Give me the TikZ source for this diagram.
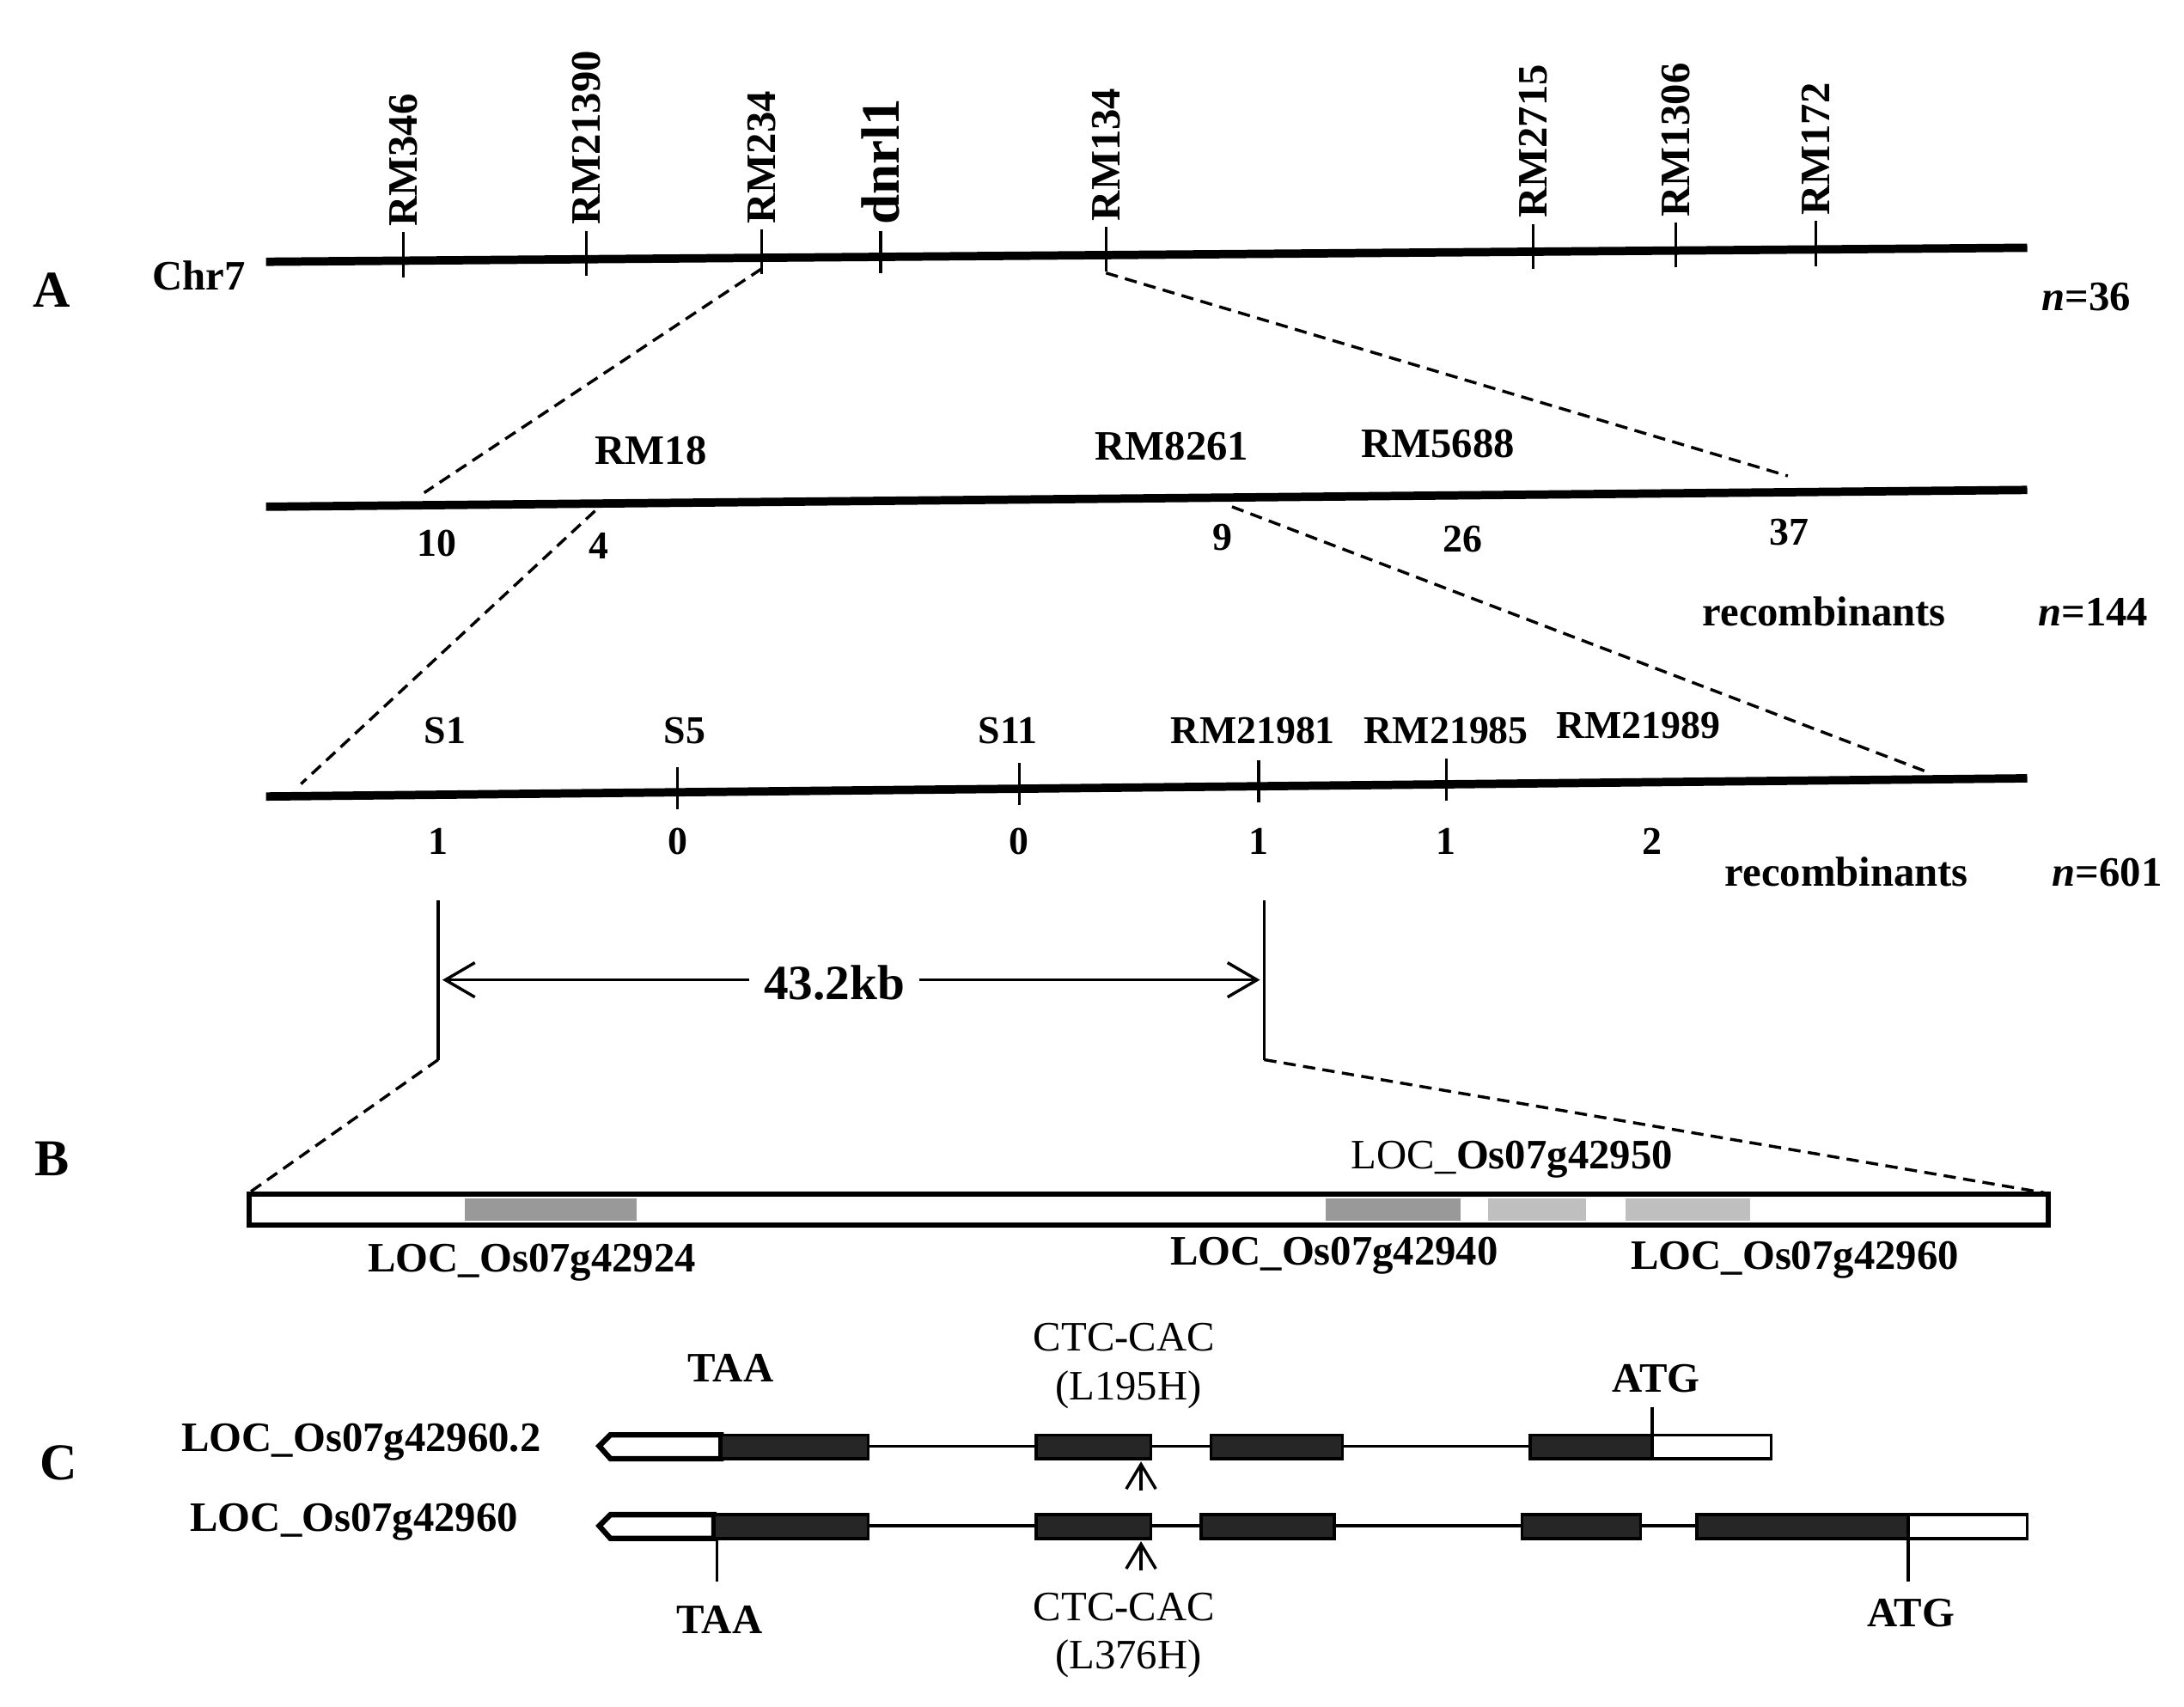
\documentclass[tikz,border=0pt]{standalone}
\usepackage{fontspec}
\setmainfont{Liberation Serif}
\usetikzlibrary{arrows.meta}
\begin{document}
\begin{tikzpicture}[x=0.01cm,y=-0.01cm,
 chr/.style={line width=1.7pt},
 thin/.style={line width=0.6pt},
 dsh/.style={line width=0.6pt,dash pattern=on 2.5pt off 1.5pt},
 lab/.style={font=\fontsize{8}{9}\selectfont\bfseries,inner sep=1pt},
 rlab/.style={lab,font=\fontsize{8.5}{10}\selectfont\bfseries,rotate=90,anchor=west},
 reg/.style={font=\fontsize{7.5}{9}\selectfont,inner sep=1pt},
 big/.style={font=\fontsize{10.5}{12}\selectfont\bfseries},
 ex/.style={fill=black!85,draw=black,thin},
 ut/.style={fill=white,draw=black,thin}]
\useasboundingbox (0,0) rectangle (1560,1219);
% --- line 1
\draw[chr] (190,187) coordinate(c1a) -- (1448,177) coordinate(c1b);
\foreach \x/\n/\y in {288/RM346/186,419/RM21390/185,544/RM234/184,790/RM134/182,1095/RM2715/180,1197/RM1306/179,1297/RM172/178}{
  \draw[thin] (\x,\y+12) -- (\x,\y-20) coordinate(t\n);
  \node[rlab] (l\n) at (t\n) {\n};}
\draw[thin] (629,195) -- (629,165) coordinate(td);
\node[rlab,font=\fontsize{11}{12}\selectfont\bfseries] (ldnrl) at (td) {dnrl1};
\node[lab,font=\fontsize{8.5}{10}\selectfont\bfseries] (chr7) at (142,197) {Chr7};
\node[big] (A) at (37,207) {A};
\node[lab,font=\fontsize{8.5}{10}\selectfont\bfseries] (n36) at (1490,212) {\textit{n}=36};
\coordinate (d1) at (544,192); \coordinate (d2) at (303,352);
\coordinate (d3) at (790,195); \coordinate (d4) at (1277,340);
\draw[dsh] (d1) -- (d2); \draw[dsh] (d3) -- (d4);
% --- line 2
\draw[chr] (190,362) coordinate(c2a) -- (1448,350) coordinate(c2b);
\node[lab,font=\fontsize{8.5}{10}\selectfont\bfseries] (rm18) at (465,322) {RM18};
\node[lab,font=\fontsize{8.5}{10}\selectfont\bfseries] (rm8261) at (837,319) {RM8261};
\node[lab,font=\fontsize{8.5}{10}\selectfont\bfseries] (rm5688) at (1027,317) {RM5688};
\foreach \x/\y/\t in {312/388/10,428/390/4,873/384/9,1045/385/26,1278/380/37}
  \node[lab] (n2\x) at (\x,\y) {\t};
\node[lab,font=\fontsize{8.5}{10}\selectfont\bfseries] (rec1) at (1303,437) {recombinants};
\node[lab,font=\fontsize{8.5}{10}\selectfont\bfseries] (n144) at (1495,437) {\textit{n}=144};
\coordinate (d5) at (425,365); \coordinate (d6) at (215,560);
\coordinate (d7) at (880,362); \coordinate (d8) at (1378,552);
\draw[dsh] (d5) -- (d6); \draw[dsh] (d7) -- (d8);
% --- line 3
\draw[chr] (190,569) coordinate(c3a) -- (1448,556) coordinate(c3b);
\foreach \x/\y in {484/566,728/563,899/561,1033/560}
  \draw[thin] (\x,\y-18) -- (\x,\y+12);
\foreach \x/\t in {318/S1,489/S5,720/S11,895/RM21981,1033/RM21985}
  \node[lab] (s\t) at (\x,522) {\t};
\node[lab] (sRM21989) at (1170,518) {RM21989};
\foreach \x/\t in {313/1,484/0,728/0,899/1,1033/1,1180/2}
  \node[lab] (r3\x) at (\x,601) {\t};
\node[lab,font=\fontsize{8.5}{10}\selectfont\bfseries] (rec2) at (1319,623) {recombinants};
\node[lab,font=\fontsize{8.5}{10}\selectfont\bfseries] (n601) at (1505,623) {\textit{n}=601};
% --- 43.2kb
\coordinate (v1a) at (313,643); \coordinate (v1b) at (313,757);
\coordinate (v2a) at (903,643); \coordinate (v2b) at (903,757);
\draw[thin] (v1a) -- (v1b); \draw[thin] (v2a) -- (v2b);
\coordinate (aL) at (316,700); \coordinate (aR) at (900,700);
\draw[thin,{Straight Barb[length=6pt,width=7pt]}-{Straight Barb[length=6pt,width=7pt]}] (aL) -- (aR);
\node[lab,fill=white,font=\fontsize{10}{12}\selectfont\bfseries,inner sep=3pt] (kb) at (596,702) {43.2kb};
\coordinate (b1) at (178,852); \coordinate (b2) at (1460,852);
\draw[dsh] (v1b) -- (b1); \draw[dsh] (v2b) -- (b2);
% --- B
\node[big] (B) at (37,828) {B};
\draw[line width=1.1pt,fill=white] (178,853) rectangle (1463,875);
\fill[black!40] (332,856) rectangle (455,872);
\fill[black!40] (947,856) rectangle (1043,872);
\fill[black!25] (1063,856) rectangle (1133,872);
\fill[black!25] (1161,856) rectangle (1250,872);
\node[lab,font=\fontsize{8.5}{10}\selectfont\bfseries] (g24) at (380,902) {LOC\_Os07g42924};
\node[lab,font=\fontsize{8.5}{10}\selectfont\bfseries] (g40) at (953,897) {LOC\_Os07g42940};
\node[lab,font=\fontsize{8.5}{10}\selectfont\bfseries] (g60) at (1282,900) {LOC\_Os07g42960};
\node[reg,font=\fontsize{8.5}{10}\selectfont] (g50) at (1080,828) {LOC\_\textbf{Os07g42950}};
% --- C
\node[big] (C) at (42,1045) {C};
\node[lab,font=\fontsize{8.5}{10}\selectfont\bfseries] (t1) at (258,1030) {LOC\_Os07g42960.2};
\node[lab,font=\fontsize{8.5}{10}\selectfont\bfseries] (t2) at (253,1087) {LOC\_Os07g42960};
% transcript 1
\draw[thin] (620,1033) -- (1093,1033);
\draw[line width=1.1pt,fill=white] (515,1025) -- (436,1025) -- (428,1033) -- (436,1042) -- (515,1042) -- cycle;
\foreach \a/\b in {515/620,740/822,865/959,1093/1180} \draw[ex] (\a,1025) rectangle (\b,1042);
\draw[ut] (1180,1025) rectangle (1265,1042);
\draw[thin] (1180,1025) -- (1180,1005);
\node[lab,font=\fontsize{8.5}{10}\selectfont\bfseries] (atg1) at (1183,985) {ATG};
\node[lab,font=\fontsize{8.5}{10}\selectfont\bfseries] (taa1) at (522,977) {TAA};
% transcript 2
\draw[thin] (620,1090) -- (1212,1090);
\draw[line width=1.1pt,fill=white] (510,1082) -- (436,1082) -- (428,1090) -- (436,1099) -- (510,1099) -- cycle;
\foreach \a/\b in {510/620,740/822,858/953,1087/1172,1212/1363} \draw[ex] (\a,1082) rectangle (\b,1099);
\draw[ut] (1363,1082) rectangle (1448,1099);
\draw[thin] (512,1099) -- (512,1130);
\draw[thin] (1363,1099) -- (1363,1130);
\node[lab,font=\fontsize{8.5}{10}\selectfont\bfseries] (taa2) at (514,1157) {TAA};
\node[lab,font=\fontsize{8.5}{10}\selectfont\bfseries] (atg2) at (1365,1152) {ATG};
% mutations
\coordinate (m1a) at (815,1065); \coordinate (m1b) at (815,1044);
\coordinate (m2a) at (815,1122); \coordinate (m2b) at (815,1101);
\draw[thin,-{Straight Barb[length=5pt,width=6pt]}] (m1a) -- (m1b);
\draw[thin,-{Straight Barb[length=5pt,width=6pt]}] (m2a) -- (m2b);
\node[reg,font=\fontsize{8.5}{10}\selectfont] (cc1) at (803,955) {CTC-CAC};
\node[reg,font=\fontsize{8.5}{10}\selectfont] (l195) at (806,993) {(L195H)};
\node[reg,font=\fontsize{8.5}{10}\selectfont] (cc2) at (803,1148) {CTC-CAC};
\node[reg,font=\fontsize{8.5}{10}\selectfont] (l376) at (806,1185) {(L376H)};
\end{tikzpicture}
\end{document}
